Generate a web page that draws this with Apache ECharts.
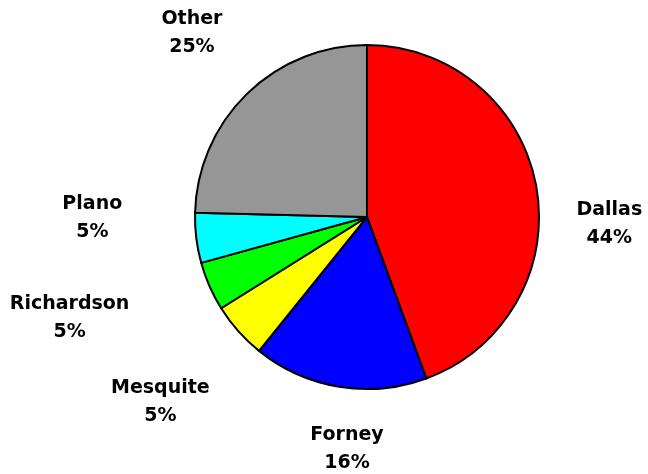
<!DOCTYPE html>
<html>
<head>
<meta charset="utf-8">
<script src="https://cdn.jsdelivr.net/npm/echarts@6/dist/echarts.min.js"></script>
<style>
  html, body { margin: 0; padding: 0; background: #fff; }
  #chart { width: 648px; height: 474px; }
</style>
</head>
<body>
<div id="chart"></div>
<script>
// City shares (percent), clockwise from 12 o'clock
const cities = ['Dallas', 'Forney', 'Mesquite', 'Richardson', 'Plano', 'Other'];
const shares = [44.4, 16.4, 5.3, 4.6, 4.7, 24.6];
const sliceColors = ['#ff0000', '#0000ff', '#ffff00', '#00ff00', '#00ffff', '#969696'];

// Pie geometry (pixels)
const CX = 367, CY = 217, R = 172;
// Label offset from the midpoint of each slice's outer rim
const labelNudge = [[73, 37], [8, 62], [-78, 71], [-140, 32], [-104, -20], [-55, -61]];

const total = shares.reduce((a, b) => a + b, 0);
const midAngles = [];
let acc = 0;
shares.forEach(v => {
  midAngles.push((acc + v / 2) / total * Math.PI * 2);
  acc += v;
});

const chart = echarts.init(document.getElementById('chart'), null, { renderer: 'canvas' });
chart.setOption({
  backgroundColor: '#ffffff',
  animation: false,
  series: [{
    type: 'pie',
    center: [CX, CY],
    radius: R,
    startAngle: 90,
    clockwise: true,
    avoidLabelOverlap: false,
    silent: true,
    data: cities.map((c, i) => ({
      name: c,
      value: shares[i],
      itemStyle: { color: sliceColors[i] }
    })),
    itemStyle: { borderColor: '#000000', borderWidth: 2 },
    label: {
      show: true,
      position: 'outside',
      formatter: p => '{t|' + p.name + '}\n{t|' + Math.round(p.value / total * 100) + '%}',
      rich: {
        t: {
          align: 'center',
          fontFamily: 'DejaVu Sans',
          fontWeight: 'bold',
          fontSize: 19,
          lineHeight: 28,
          color: '#000000'
        }
      }
    },
    labelLine: { show: false },
    labelLayout: function (p) {
      const a = midAngles[p.dataIndex];
      const n = labelNudge[p.dataIndex];
      return {
        x: CX + R * Math.sin(a) + n[0],
        y: CY - R * Math.cos(a) + n[1],
        align: 'center',
        verticalAlign: 'middle',
        hideOverlap: false,
        moveOverlap: false
      };
    }
  }]
});
</script>
</body>
</html>
